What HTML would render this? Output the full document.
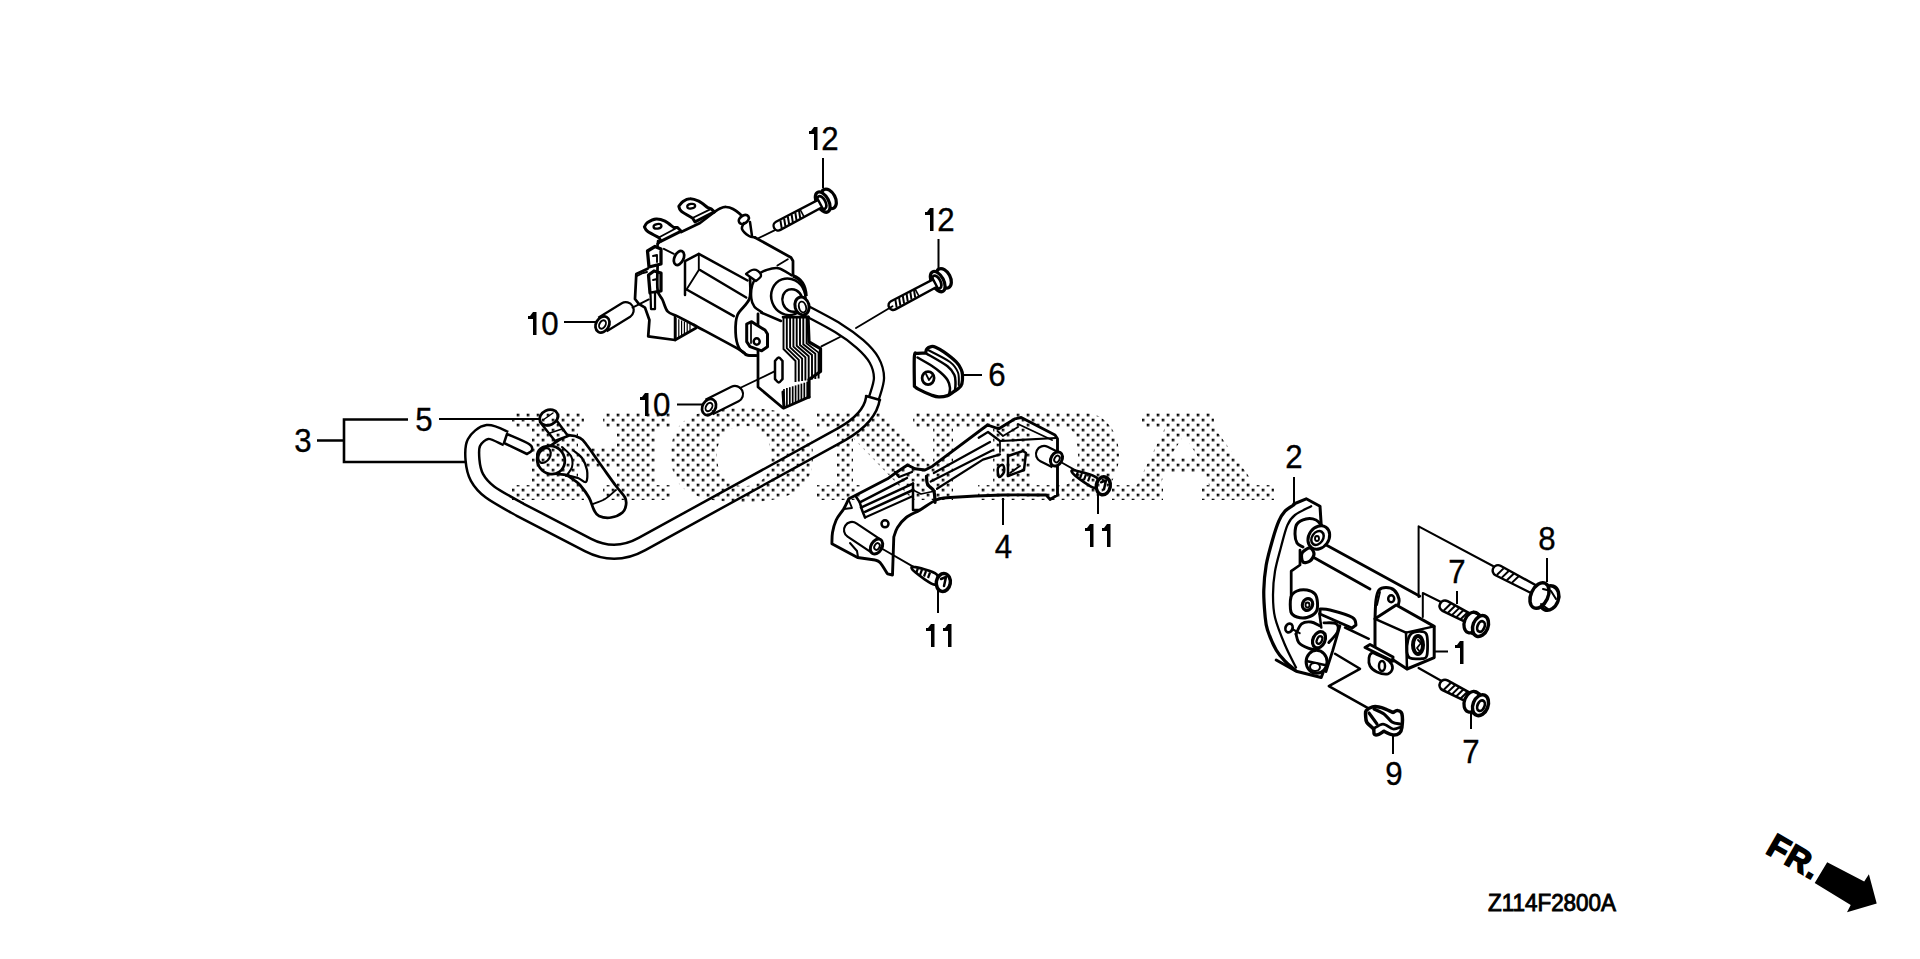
<!DOCTYPE html>
<html><head><meta charset="utf-8"><style>
html,body{margin:0;padding:0;background:#fff;width:1920px;height:959px;overflow:hidden}
svg{position:absolute;left:0;top:0}
text{font-family:"Liberation Sans",sans-serif}
</style></head><body>
<svg width="1920" height="959" viewBox="0 0 1920 959">
<defs>
<pattern id="dots" patternUnits="userSpaceOnUse" x="1.7" y="-1.3" width="10" height="10">
<rect x="0" y="0" width="2.6" height="2.6" fill="#000"/><rect x="5" y="5" width="2.6" height="2.6" fill="#000"/>
</pattern>
</defs>
<g id="parts">
<path d="M506,438.4C502.9,437.3 492.8,431.3 487.5,432C482.2,432.7 476.5,437.8 474,442.5C471.5,447.2 472,454.2 472.5,460C473,465.8 474.1,472.2 477,477.5C479.9,482.8 482.8,486.6 490,492C497.2,497.4 515,506.8 520,509.7L588,545Q615,559 642,544L842,434Q870,418 873,398" fill="none" stroke="#000" stroke-width="16.4" stroke-linecap="butt" stroke-linejoin="round"/>
<path d="M506,438.4C502.9,437.3 492.8,431.3 487.5,432C482.2,432.7 476.5,437.8 474,442.5C471.5,447.2 472,454.2 472.5,460C473,465.8 474.1,472.2 477,477.5C479.9,482.8 482.8,486.6 490,492C497.2,497.4 515,506.8 520,509.7L588,545Q615,559 642,544L842,434Q870,418 873,398" fill="none" stroke="#fff" stroke-width="11.4" stroke-linecap="butt" stroke-linejoin="round"/>
<path d="M874,398C874.8,394.7 879,384.3 879,378C879,371.7 877.2,365.7 874,360C870.8,354.3 866,349.3 860,344C854,338.7 847.8,334 838,328C828.2,322 807.2,311.3 801,308" fill="none" stroke="#000" stroke-width="12.4" stroke-linecap="butt" stroke-linejoin="round"/>
<path d="M874,398C874.8,394.7 879,384.3 879,378C879,371.7 877.2,365.7 874,360C870.8,354.3 866,349.3 860,344C854,338.7 847.8,334 838,328C828.2,322 807.2,311.3 801,308" fill="none" stroke="#fff" stroke-width="7.8" stroke-linecap="butt" stroke-linejoin="round"/>
<path d="M866,396 L880,400" fill="none" stroke="#000" stroke-width="2.50" stroke-linejoin="round" stroke-linecap="round"/>
<path d="M507,434C510.7,435.7 524.8,441.3 529,444C533.2,446.7 532.3,448.3 532,450C531.7,451.7 527.8,453.3 527,454L504,443L507,434Z" fill="#fff" stroke="#000" stroke-width="2.50" stroke-linejoin="round"/>
<path d="M567.5,435.6C571.2,435.1 576.7,436.3 580,438C583.3,439.7 584.2,441.7 587.5,446C590.8,450.3 595.2,457.1 600,463.8C604.8,470.4 611.8,480.4 616,486C620.2,491.6 623.3,494.3 625,497.5C626.7,500.7 626.4,502.5 626,505C625.6,507.5 625,510.4 622.5,512.5C620,514.6 614.9,516.9 611,517.5C607.1,518.1 601.8,517.2 599,516C596.2,514.8 595.7,513.1 594,510C592.3,506.9 591.3,501.7 589,497.5C586.7,493.3 582.5,487.9 580,485C577.5,482.1 576.3,481.7 574,480C571.7,478.3 568.8,476 566,475C563.2,474 560.3,474.7 557.5,474C554.7,473.3 551.9,472.5 549,470.6C546.1,468.7 541.9,465.3 540,462.5C538.1,459.7 537.1,456.2 537.5,453.8C537.9,451.2 540.4,448.8 542.5,447.5C544.6,446.2 547.5,447.1 550,446C552.5,444.9 554.6,442.7 557.5,441C560.4,439.3 563.8,436.1 567.5,435.6Z" fill="#fff" stroke="#000" stroke-width="2.75" stroke-linejoin="round"/>
<path d="M592.5,504C594.6,503.2 601.1,501.3 605,499C608.9,496.7 614.2,491.5 616,490" fill="none" stroke="#000" stroke-width="1.88" stroke-linejoin="round" stroke-linecap="round"/>
<path d="M566,475C568,475.5 574.7,476.8 578,478C581.3,479.2 584.5,483.3 586,482C587.5,480.7 587.7,474 587,470C586.3,466 584.2,461.2 582,458C579.8,454.8 575.3,452.2 574,451" fill="none" stroke="#000" stroke-width="2.25" stroke-linejoin="round" stroke-linecap="round"/>
<path d="M540,422L555,441L568,436L557,421L540,422Z" fill="#fff" stroke="#000" stroke-width="2.50" stroke-linejoin="round"/>
<path d="M550,433 L562,429" fill="none" stroke="#000" stroke-width="1.50" stroke-linejoin="round" stroke-linecap="round"/>
<ellipse cx="548.8" cy="417.5" rx="9.5" ry="7.5" transform="rotate(-25 548.8 417.5)" fill="#fff" stroke="#000" stroke-width="2.75"/>
<path d="M543,420 L553,413" fill="none" stroke="#000" stroke-width="1.50" stroke-linejoin="round" stroke-linecap="round"/>
<ellipse cx="551" cy="460" rx="13.5" ry="14.5" transform="rotate(-35 551 460)" fill="#fff" stroke="#000" stroke-width="2.75"/>
<ellipse cx="544.5" cy="455.5" rx="5.5" ry="8" transform="rotate(30 544.5 455.5)" fill="#fff" stroke="#000" stroke-width="2.25"/>
<path d="M562,447C563.5,448.5 569.3,452.7 571,456C572.7,459.3 572.8,463.7 572,467C571.2,470.3 567,474.5 566,476" fill="none" stroke="#000" stroke-width="2.00" stroke-linejoin="round" stroke-linecap="round"/>
<path d="M644.4,226.9C644.9,226.2 645.5,223.8 647.5,222.5C649.5,221.2 653.3,219.2 656.2,219C659.2,218.8 662.1,219.8 665,221.2C667.9,222.7 672.3,226.5 673.8,227.5L677.5,227.5L681.2,231.2L661.2,241.2L658.8,237.5C656.9,236.5 649.9,233 647.5,231.2C645.1,229.5 644.9,227.6 644.4,226.9Z" fill="#fff" stroke="#000" stroke-width="3.00" stroke-linejoin="round"/>
<path d="M658.8,237.5 L677.5,227.5" fill="none" stroke="#000" stroke-width="1.88" stroke-linejoin="round" stroke-linecap="round"/>
<ellipse cx="657.5" cy="226.3" rx="4" ry="2.3" transform="rotate(-10 657.5 226.3)" fill="#fff" stroke="#000" stroke-width="2.25"/>
<path d="M678.8,206.2C679.5,205.5 681.1,202.8 683,201.5C684.9,200.2 687.4,198.8 690,198.8C692.6,198.7 695.8,199.8 698.8,201.2C701.7,202.7 706,206.5 707.5,207.5L711.2,208.8L714.4,211.9L695,221.9L692.5,218C690.6,216.9 683.5,213.2 681.2,211.2C679,209.3 679.2,207.1 678.8,206.2Z" fill="#fff" stroke="#000" stroke-width="3.00" stroke-linejoin="round"/>
<path d="M692.5,218 L711.2,208.8" fill="none" stroke="#000" stroke-width="1.88" stroke-linejoin="round" stroke-linecap="round"/>
<ellipse cx="691.2" cy="206.2" rx="4" ry="2.3" transform="rotate(-10 691.2 206.2)" fill="#fff" stroke="#000" stroke-width="2.25"/>
<path d="M657.5,244 L661,241" fill="none" stroke="#000" stroke-width="2.50" stroke-linejoin="round" stroke-linecap="round"/>
<path d="M681.2,232 L700,223 L714.4,212" fill="none" stroke="#000" stroke-width="2.75" stroke-linejoin="round" stroke-linecap="round"/>
<path d="M714.4,211.9C715.3,211.3 718.1,209.3 720,208.5C721.9,207.7 723.8,206.9 726,207C728.2,207.1 730.7,207.8 733,209C735.3,210.2 738.2,212.3 740,214C741.8,215.7 743.3,218.2 744,219" fill="none" stroke="#000" stroke-width="2.75" stroke-linejoin="round" stroke-linecap="round"/>
<ellipse cx="743.8" cy="219.4" rx="5.5" ry="3.8" transform="rotate(-35 743.8 219.4)" fill="#fff" stroke="#000" stroke-width="2.75"/>
<path d="M744,223C743.7,224 741.2,226.8 742,229C742.8,231.2 746.8,234.6 749,236C751.2,237.4 754,237.2 755,237.5" fill="none" stroke="#000" stroke-width="2.50" stroke-linejoin="round" stroke-linecap="round"/>
<path d="M750,222 L752,236" fill="none" stroke="#000" stroke-width="2.50" stroke-linejoin="round" stroke-linecap="round"/>
<path d="M755,237.5 L791,257.5 L793,261 L793,275" fill="none" stroke="#000" stroke-width="2.75" stroke-linejoin="round" stroke-linecap="round"/>
<path d="M777.4,265.5 L787.8,259.3" fill="none" stroke="#000" stroke-width="1.88" stroke-linejoin="round" stroke-linecap="round"/>
<path d="M647.5,251L655,246.5L661,249L661,264L649,267L647.5,251Z" fill="#fff" stroke="#000" stroke-width="3.25" stroke-linejoin="round"/>
<path d="M648.5,275L654,271L661,273L661,291L650,293L648.5,275Z" fill="#fff" stroke="#000" stroke-width="3.25" stroke-linejoin="round"/>
<path d="M653,256 L657,255 L657,262" fill="none" stroke="#000" stroke-width="1.88" stroke-linejoin="round" stroke-linecap="round"/>
<path d="M653,280 L657,279 L657,287" fill="none" stroke="#000" stroke-width="1.88" stroke-linejoin="round" stroke-linecap="round"/>
<path d="M650.5,293L655,292L655,309L651,309L650.5,293Z" fill="#fff" stroke="#000" stroke-width="2.25" stroke-linejoin="round"/>
<path d="M658,241 L657.5,247" fill="none" stroke="#000" stroke-width="2.50" stroke-linejoin="round" stroke-linecap="round"/>
<path d="M657.6,265C657.6,269.2 656.8,284.2 657.6,290C658.4,295.8 660.9,296.4 662.6,300C664.3,303.6 665.1,308.7 667.6,311.4C670.1,314.1 673.2,314.1 677.6,316.4C682,318.7 691.3,323.6 694,325" fill="none" stroke="#000" stroke-width="2.75" stroke-linejoin="round" stroke-linecap="round"/>
<path d="M647.6,268.8 L636.3,274 L635,299 L638.8,303.8 L645,307.6 L649.4,320 L648.2,336.4 L675,340 L696,328" fill="none" stroke="#000" stroke-width="2.75" stroke-linejoin="round" stroke-linecap="round"/>
<path d="M637,276 L643,273 L647,272" fill="none" stroke="#000" stroke-width="1.88" stroke-linejoin="round" stroke-linecap="round"/>
<path d="M676.0,318.0V340.0" stroke="#000" stroke-width="1.2"/>
<path d="M678.8,319.2V338.0" stroke="#000" stroke-width="1.2"/>
<path d="M681.6,320.4V336.0" stroke="#000" stroke-width="1.2"/>
<path d="M684.4,321.6V334.0" stroke="#000" stroke-width="1.2"/>
<path d="M687.2,322.8V332.0" stroke="#000" stroke-width="1.2"/>
<path d="M690.0,324.0V330.0" stroke="#000" stroke-width="1.2"/>
<path d="M675,316 L675,340" fill="none" stroke="#000" stroke-width="2.50" stroke-linejoin="round" stroke-linecap="round"/>
<path d="M694,325C701.7,329.2 731.3,345 740,350C748.7,355 743.5,354.1 746.2,355C749,355.9 754.6,355.5 756.2,355.6" fill="none" stroke="#000" stroke-width="2.75" stroke-linejoin="round" stroke-linecap="round"/>
<ellipse cx="679" cy="258" rx="4.5" ry="7.5" transform="rotate(25 679 258)" fill="#fff" stroke="#000" stroke-width="2.75"/>
<path d="M663.8,248.8 L673.8,253.8" fill="none" stroke="#000" stroke-width="1.88" stroke-linejoin="round" stroke-linecap="round"/>
<path d="M685,295 L685,261.2 L698.8,253.8 L747.5,280.5" fill="none" stroke="#000" stroke-width="2.50" stroke-linejoin="round" stroke-linecap="round"/>
<path d="M698.8,253.8 L698.8,270 L686.2,290" fill="none" stroke="#000" stroke-width="1.88" stroke-linejoin="round" stroke-linecap="round"/>
<path d="M700,270 L746.2,297.5" fill="none" stroke="#000" stroke-width="2.50" stroke-linejoin="round" stroke-linecap="round"/>
<path d="M687.5,290 L733.8,316.2" fill="none" stroke="#000" stroke-width="2.50" stroke-linejoin="round" stroke-linecap="round"/>
<path d="M750,278C749.9,281.5 751.5,292.6 749.4,298.8C747.3,304.9 739.8,309.4 737.5,315C735.2,320.6 735.4,327.1 735.6,332.5C735.8,337.9 737,343.9 738.8,347.5C740.5,351.1 743.3,353 746.2,354.4C749.2,355.8 754.6,355.4 756.2,355.6" fill="none" stroke="#000" stroke-width="2.75" stroke-linejoin="round" stroke-linecap="round"/>
<path d="M761.7,312C760.5,311.1 756.1,309 754.4,306.7C752.7,304.4 751.6,302 751.3,298.4C750.9,294.8 751.2,288.7 752.3,284.8C753.4,280.9 755.7,277.4 758,275C760.3,272.6 762.5,271.3 765.9,270.2C769.3,269.1 774,267.3 778.4,268.2C782.8,269.1 789.7,274.3 792,275.5" fill="none" stroke="#000" stroke-width="2.50" stroke-linejoin="round" stroke-linecap="round"/>
<path d="M746,274C747,273.3 750,270.5 752,270C754,269.5 756.5,270 758,271C759.5,272 761.3,274.3 761,276C760.7,277.7 756.8,280.2 756,281L746,274Z" fill="#fff" stroke="#000" stroke-width="2.25" stroke-linejoin="round"/>
<ellipse cx="788.3" cy="296.8" rx="17" ry="18.5" transform="rotate(-20 788.3 296.8)" fill="#fff" stroke="#000" stroke-width="2.50"/>
<path d="M793,276Q805,280 806,296" fill="none" stroke="#000" stroke-width="3.5"/>
<ellipse cx="792.5" cy="300.5" rx="10" ry="11.5" transform="rotate(-20 792.5 300.5)" fill="#fff" stroke="#000" stroke-width="2.50"/>
<ellipse cx="802" cy="306" rx="7" ry="9" transform="rotate(-15 802 306)" fill="#fff" stroke="#000" stroke-width="3.00"/>
<ellipse cx="802.5" cy="307" rx="3.5" ry="5.5" transform="rotate(-15 802.5 307)" fill="#fff" stroke="#000" stroke-width="1.88"/>
<path d="M758,313.8 L758,387 L783,408" fill="none" stroke="#000" stroke-width="2.75" stroke-linejoin="round" stroke-linecap="round"/>
<path d="M761,312.5 L781,321" fill="none" stroke="#000" stroke-width="2.50" stroke-linejoin="round" stroke-linecap="round"/>
<path d="M746.7,324L751.7,321.7L756.7,325L765,330L767.5,334L767.5,346.7L761.7,350.8L750,346.7L746.7,341.7L746.7,324Z" fill="#fff" stroke="#000" stroke-width="3.00" stroke-linejoin="round"/>
<ellipse cx="756.7" cy="341.5" rx="3" ry="3.2" transform="rotate(0 756.7 341.5)" fill="#fff" stroke="#000" stroke-width="2.50"/>
<path d="M751,322.5 L751,343" fill="none" stroke="#000" stroke-width="1.75" stroke-linejoin="round" stroke-linecap="round"/>
<path d="M775,361C775.6,360.4 777.5,357.5 778.8,357.5C780,357.5 781.9,360.4 782.5,361L782.5,379C781.9,379.6 780,382.5 778.8,382.5C777.5,382.5 775.6,379.6 775,379L775,361Z" fill="#fff" stroke="#000" stroke-width="2.50" stroke-linejoin="round"/>
<path d="M783.5,317L783.5,349L795.5,361L795.5,382" fill="none" stroke="#000" stroke-width="1.9"/>
<path d="M786.8,317L786.8,348.2L798.8,359.8L798.8,381.5" fill="none" stroke="#000" stroke-width="1.9"/>
<path d="M790.1,317L790.1,347.4L802.1,358.6L802.1,381" fill="none" stroke="#000" stroke-width="1.9"/>
<path d="M793.4,317L793.4,346.6L805.4,357.4L805.4,380.5" fill="none" stroke="#000" stroke-width="1.9"/>
<path d="M796.7,317L796.7,345.8L808.7,356.2L808.7,380" fill="none" stroke="#000" stroke-width="1.9"/>
<path d="M800,317L800,345L812,355L812,379.5" fill="none" stroke="#000" stroke-width="1.9"/>
<path d="M803.3,317L803.3,344.2L815.3,353.8L815.3,379" fill="none" stroke="#000" stroke-width="1.9"/>
<path d="M806.6,317L806.6,343.4L818.6,352.6L818.6,378.5" fill="none" stroke="#000" stroke-width="1.9"/>
<path d="M783,317 L808.5,317" fill="none" stroke="#000" stroke-width="2.75" stroke-linejoin="round" stroke-linecap="round"/>
<path d="M808,317 L809,342 L820.5,348.6 L820.5,371.5 L809,379.5 L809,397" fill="none" stroke="#000" stroke-width="3.25" stroke-linejoin="round" stroke-linecap="round"/>
<path d="M784.0,389.0V407.0" stroke="#000" stroke-width="1.7"/>
<path d="M786.9,388.1V405.9" stroke="#000" stroke-width="1.7"/>
<path d="M789.8,387.2V404.8" stroke="#000" stroke-width="1.7"/>
<path d="M792.7,386.3V403.7" stroke="#000" stroke-width="1.7"/>
<path d="M795.6,385.4V402.6" stroke="#000" stroke-width="1.7"/>
<path d="M798.5,384.5V401.5" stroke="#000" stroke-width="1.7"/>
<path d="M801.4,383.6V400.4" stroke="#000" stroke-width="1.7"/>
<path d="M804.3,382.7V399.3" stroke="#000" stroke-width="1.7"/>
<path d="M807.2,381.8V398.2" stroke="#000" stroke-width="1.7"/>
<path d="M783,392 L784,408 L809,397" fill="none" stroke="#000" stroke-width="3.00" stroke-linejoin="round" stroke-linecap="round"/>
<path d="M606.7,331.3L630.2,316.8A8,8 0 0 0 621.8,303.2L598.3,317.7" fill="#fff" stroke="#000" stroke-width="2.2"/>
<ellipse cx="602.5" cy="324.5" rx="6.5" ry="8.5" transform="rotate(30 602.5 324.5)" fill="#fff" stroke="#000" stroke-width="2.75"/>
<ellipse cx="602.5" cy="324.5" rx="3" ry="4.5" transform="rotate(30 602.5 324.5)" fill="#fff" stroke="#000" stroke-width="1.88"/>
<path d="M632.5,307.6 L648.8,299.4" fill="none" stroke="#000" stroke-width="1.88" stroke-linejoin="round" stroke-linecap="round"/>
<path d="M712.6,414.2L738.6,401.2A8,8 0 0 0 731.4,386.8L705.4,399.8" fill="#fff" stroke="#000" stroke-width="2.2"/>
<ellipse cx="709" cy="407" rx="6.5" ry="8.5" transform="rotate(30 709 407)" fill="#fff" stroke="#000" stroke-width="2.75"/>
<ellipse cx="709" cy="407" rx="3" ry="4.5" transform="rotate(30 709 407)" fill="#fff" stroke="#000" stroke-width="1.88"/>
<path d="M740,388 L775,371.2" fill="none" stroke="#000" stroke-width="1.88" stroke-linejoin="round" stroke-linecap="round"/>
<path d="M758.8,238 L777.5,228.8" fill="none" stroke="#000" stroke-width="1.88" stroke-linejoin="round" stroke-linecap="round"/>
<ellipse cx="828.8" cy="198.8" rx="6.5" ry="10.5" transform="rotate(-28 828.8 198.8)" fill="#fff" stroke="#000" stroke-width="3.25"/>
<ellipse cx="822.7" cy="202.1" rx="6" ry="11" transform="rotate(-28 822.7 202.1)" fill="#fff" stroke="#000" stroke-width="3.25"/>
<ellipse cx="821.7" cy="202.6" rx="3.8" ry="7" transform="rotate(-28 821.7 202.6)" fill="#fff" stroke="#000" stroke-width="2.75"/>
<path d="M776.0,221.7L818.1,199.9L822.0,207.2L780.4,229.9A4.6,4.6 0 0 1 776.0,221.7Z" fill="#fff" stroke="#000" stroke-width="2.4"/>
<path d="M799.9,209.1L804.2,217.2" stroke="#000" stroke-width="1.6"/>
<path d="M780.4,220.4L781.7,228.1" stroke="#000" stroke-width="2"/>
<path d="M784.1,218.5L785.4,226.1" stroke="#000" stroke-width="2"/>
<path d="M787.8,216.5L789.1,224.2" stroke="#000" stroke-width="2"/>
<path d="M791.6,214.5L792.8,222.2" stroke="#000" stroke-width="2"/>
<path d="M795.3,212.5L796.5,220.2" stroke="#000" stroke-width="2"/>
<path d="M799.0,210.6L800.2,218.2" stroke="#000" stroke-width="2"/>
<ellipse cx="943.8" cy="278.3" rx="6.5" ry="10.5" transform="rotate(-28 943.8 278.3)" fill="#fff" stroke="#000" stroke-width="3.25"/>
<ellipse cx="937.7" cy="281.6" rx="6" ry="11" transform="rotate(-28 937.7 281.6)" fill="#fff" stroke="#000" stroke-width="3.25"/>
<ellipse cx="936.7" cy="282.1" rx="3.8" ry="7" transform="rotate(-28 936.7 282.1)" fill="#fff" stroke="#000" stroke-width="2.75"/>
<path d="M891.0,301.2L933.1,279.4L937.0,286.7L895.4,309.4A4.6,4.6 0 0 1 891.0,301.2Z" fill="#fff" stroke="#000" stroke-width="2.4"/>
<path d="M914.9,288.6L919.2,296.7" stroke="#000" stroke-width="1.6"/>
<path d="M895.4,299.9L896.7,307.6" stroke="#000" stroke-width="2"/>
<path d="M899.1,298.0L900.4,305.6" stroke="#000" stroke-width="2"/>
<path d="M902.8,296.0L904.1,303.7" stroke="#000" stroke-width="2"/>
<path d="M906.6,294.0L907.8,301.7" stroke="#000" stroke-width="2"/>
<path d="M910.3,292.0L911.5,299.7" stroke="#000" stroke-width="2"/>
<path d="M914.0,290.1L915.2,297.7" stroke="#000" stroke-width="2"/>
<path d="M892.5,306.2 L856,328" fill="none" stroke="#000" stroke-width="1.88" stroke-linejoin="round" stroke-linecap="round"/>
<path d="M840,337 L821.4,346.4" fill="none" stroke="#000" stroke-width="1.88" stroke-linejoin="round" stroke-linecap="round"/>
<path d="M925.6,353.1C925.8,352.4 926,349.8 926.9,348.8C927.8,347.7 929.8,346.9 931.2,346.6C932.7,346.3 933.5,346.3 935.6,347.2C937.7,348.1 940.3,349.4 943.8,351.9C947.2,354.3 953.3,359 956.2,361.9C959.2,364.8 960.2,367.2 961.2,369.4C962.3,371.6 962.4,372.6 962.5,375C962.6,377.4 962.5,381.6 961.9,383.8C961.3,385.9 960,386.9 958.8,388.1C957.5,389.4 956.3,390 954.4,391.2C952.5,392.5 950.1,394.7 947.5,395.6C944.9,396.5 941.5,397 938.8,396.9C936,396.8 934.6,396.2 931.2,395C927.9,393.8 921.6,390.9 918.8,389.4C915.9,387.9 915.1,386.8 914.4,386.2C914.4,381.2 913.9,361.7 914.4,356.2C914.9,350.8 915.6,353.9 917.5,353.4C919.4,352.9 924.2,353.2 925.6,353.1Z" fill="#fff" stroke="#000" stroke-width="3.25" stroke-linejoin="round"/>
<path d="M917.5,357.5C919.9,358.9 928.1,363.5 932,366C935.9,368.5 938,370.2 940.6,372.5C943.2,374.8 945.9,377.4 947.5,380C949.1,382.6 949.8,385.5 950,388C950.2,390.5 949.2,393.8 949,395" fill="none" stroke="#000" stroke-width="2.50" stroke-linejoin="round" stroke-linecap="round"/>
<path d="M926.9,353.8C930.3,355.8 942.9,362.7 947.5,366.2C952.1,369.8 953.1,372.2 954.4,375C955.7,377.8 955.4,380.3 955.5,383C955.6,385.7 955.1,389.7 955,391" fill="none" stroke="#000" stroke-width="2.50" stroke-linejoin="round" stroke-linecap="round"/>
<path d="M928,350C931.7,352 945,358.2 950,362C955,365.8 956.5,368.7 958,372.5C959.5,376.3 958.6,382.9 958.8,385" fill="none" stroke="#000" stroke-width="2.00" stroke-linejoin="round" stroke-linecap="round"/>
<ellipse cx="928.1" cy="378.1" rx="6" ry="6.5" transform="rotate(0 928.1 378.1)" fill="#fff" stroke="#000" stroke-width="2.75"/>
<path d="M926,374 L929,380 L932,376" fill="none" stroke="#000" stroke-width="1.75" stroke-linejoin="round" stroke-linecap="round"/>
<path d="M831.9,543.8C832,541.9 831.8,536.5 832.5,532.5C833.2,528.5 834.4,524 836.2,520C838.1,516 841.7,512.3 843.8,508.8C845.8,505.2 847.9,500.4 848.8,498.8L856.2,495L887.5,478.8L896.2,472.5L907.5,465L915,468.8L925,470L932.5,466.2L987.5,425L998.8,428.8L1015,418.8L1021.2,417.5L1055,435L1057.5,438.8L1057.5,495L1050,499.4L1046.2,495C1039,495 1018.5,494.6 1002.5,495C986.5,495.4 961,496.7 950,497.5C939,498.3 941.2,497.9 936.2,500C931.2,502.1 925,507.1 920,510C915,512.9 910,514.6 906.2,517.5C902.5,520.4 899.6,524.2 897.5,527.5C895.4,530.8 894.4,535.4 893.8,537L892.5,575L887.5,573.8C886.2,571.9 882.1,564.8 880,562.5C877.9,560.2 875.8,560.4 875,560L857.5,557.5L831.9,543.8Z" fill="none" stroke="#000" stroke-width="2.88" stroke-linejoin="round"/>
<path d="M859.8,502.4 L894.2,484.6 L907,478" fill="none" stroke="#000" stroke-width="2.50" stroke-linejoin="round" stroke-linecap="round"/>
<path d="M860.9,507.6 L913,483.6" fill="none" stroke="#000" stroke-width="2.50" stroke-linejoin="round" stroke-linecap="round"/>
<path d="M865,511.8 L913,490" fill="none" stroke="#000" stroke-width="2.50" stroke-linejoin="round" stroke-linecap="round"/>
<path d="M855.6,496 L859.8,502.4 L862,510 L865,517.5" fill="none" stroke="#000" stroke-width="2.50" stroke-linejoin="round" stroke-linecap="round"/>
<path d="M865,517.5 L913,496" fill="none" stroke="#000" stroke-width="2.00" stroke-linejoin="round" stroke-linecap="round"/>
<path d="M913,483.6 L913,510 L920,510" fill="none" stroke="#000" stroke-width="2.50" stroke-linejoin="round" stroke-linecap="round"/>
<path d="M926.5,476.3C926.7,477.7 926.4,482.2 927.6,484.6C928.8,487.1 932.6,488 933.8,491C935,494 934.8,500.5 935,502.4" fill="none" stroke="#000" stroke-width="3.25" stroke-linejoin="round" stroke-linecap="round"/>
<path d="M913,490 L921,494 L935,491" fill="none" stroke="#000" stroke-width="1.75" stroke-linejoin="round" stroke-linecap="round"/>
<path d="M933.8,473 L990,442" fill="none" stroke="#000" stroke-width="2.25" stroke-linejoin="round" stroke-linecap="round"/>
<path d="M930.7,481.5 L993,450" fill="none" stroke="#000" stroke-width="2.25" stroke-linejoin="round" stroke-linecap="round"/>
<path d="M937,488.8 L982.9,459.6 L1000,454.4" fill="none" stroke="#000" stroke-width="2.25" stroke-linejoin="round" stroke-linecap="round"/>
<path d="M978.7,437.7 L988,432 L1000,441 L1056,438" fill="none" stroke="#000" stroke-width="2.25" stroke-linejoin="round" stroke-linecap="round"/>
<path d="M1000,441 L1000,452" fill="none" stroke="#000" stroke-width="1.75" stroke-linejoin="round" stroke-linecap="round"/>
<path d="M1018,424 L1052,440" fill="none" stroke="#000" stroke-width="1.88" stroke-linejoin="round" stroke-linecap="round"/>
<path d="M997.5,431 L1003,436 L1018,427" fill="none" stroke="#000" stroke-width="1.88" stroke-linejoin="round" stroke-linecap="round"/>
<path d="M895,472 L899,477 L912,472" fill="none" stroke="#000" stroke-width="2.25" stroke-linejoin="round" stroke-linecap="round"/>
<path d="M871.6,552.7L847.6,536.7A8,8 0 0 1 856.4,523.3L880.4,539.3" fill="none" stroke="#000" stroke-width="2.2"/>
<ellipse cx="876.5" cy="546.5" rx="5.5" ry="8" transform="rotate(30 876.5 546.5)" fill="#fff" stroke="#000" stroke-width="3.00"/>
<ellipse cx="877" cy="546.5" rx="2.5" ry="3.5" transform="rotate(30 877 546.5)" fill="#fff" stroke="#000" stroke-width="1.88"/>
<ellipse cx="885" cy="523.8" rx="3.5" ry="3.5" transform="rotate(0 885 523.8)" fill="#fff" stroke="#000" stroke-width="2.50"/>
<path d="M850,543 L857,551 L858,557" fill="none" stroke="#000" stroke-width="2.00" stroke-linejoin="round" stroke-linecap="round"/>
<path d="M848.8,500 L852,508 L844,509" fill="none" stroke="#000" stroke-width="1.88" stroke-linejoin="round" stroke-linecap="round"/>
<path d="M1052.4,467.2L1040.4,461.2A8,8 0 0 1 1047.6,446.8L1059.6,452.8" fill="none" stroke="#000" stroke-width="2.2"/>
<ellipse cx="1056.5" cy="459" rx="5.5" ry="7.5" transform="rotate(30 1056.5 459)" fill="#fff" stroke="#000" stroke-width="3.00"/>
<ellipse cx="1057" cy="459" rx="2.5" ry="3.5" transform="rotate(30 1057 459)" fill="#fff" stroke="#000" stroke-width="1.88"/>
<path d="M998,468C998.7,466 1002,464.3 1003,465C1004,465.7 1004.7,470 1004,472C1003.3,474 1000,477.7 999,477C998,476.3 997.3,470 998,468Z" fill="none" stroke="#000" stroke-width="2.50" stroke-linejoin="round"/>
<path d="M1008,456L1023,451L1026,453L1024,470L1008,476L1008,456Z" fill="none" stroke="#000" stroke-width="2.50" stroke-linejoin="round"/>
<path d="M1010,473 L1020,466" fill="none" stroke="#000" stroke-width="1.75" stroke-linejoin="round" stroke-linecap="round"/>
<path d="M880,547.5 L913.5,566.9" fill="none" stroke="#000" stroke-width="1.88" stroke-linejoin="round" stroke-linecap="round"/>
<path d="M1062.5,463 L1075.1,470.1" fill="none" stroke="#000" stroke-width="1.88" stroke-linejoin="round" stroke-linecap="round"/>
<path d="M913.5,566.9C917.1,567.2 933,571.2 936.5,574.2C940,577.2 938,585 934.4,584.6C930.8,584.2 918.5,575.1 915,572.1C911.5,569.1 909.9,566.5 913.5,566.9Z" fill="none" stroke="#000" stroke-width="2.6"/>
<path d="M918.0,568.0L916.0,573.5" stroke="#000" stroke-width="2.2"/>
<path d="M922.0,569.5L920.0,575.0" stroke="#000" stroke-width="2.2"/>
<path d="M926.0,571.0L924.0,576.5" stroke="#000" stroke-width="2.2"/>
<path d="M930.0,572.5L928.0,578.0" stroke="#000" stroke-width="2.2"/>
<ellipse cx="943.3" cy="582.5" rx="7" ry="9" transform="rotate(10 943.3 582.5)" fill="#fff" stroke="#000" stroke-width="3.50"/>
<path d="M941,579 L946,577 L944,586" fill="none" stroke="#000" stroke-width="2.50" stroke-linejoin="round" stroke-linecap="round"/>
<path d="M1073.5,470.2C1077.1,470.6 1093,474.6 1096.5,477.5C1100,480.5 1098,488.3 1094.4,487.9C1090.8,487.6 1078.5,478.4 1075,475.4C1071.5,472.5 1069.9,469.8 1073.5,470.2Z" fill="none" stroke="#000" stroke-width="2.6"/>
<path d="M1078.0,471.3L1076.0,476.8" stroke="#000" stroke-width="2.2"/>
<path d="M1082.0,472.8L1080.0,478.3" stroke="#000" stroke-width="2.2"/>
<path d="M1086.0,474.3L1084.0,479.8" stroke="#000" stroke-width="2.2"/>
<path d="M1090.0,475.8L1088.0,481.3" stroke="#000" stroke-width="2.2"/>
<ellipse cx="1103.3" cy="485.8" rx="7" ry="9" transform="rotate(10 1103.3 485.8)" fill="#fff" stroke="#000" stroke-width="3.50"/>
<path d="M1101,482.3 L1106,480.3 L1104,489.3" fill="none" stroke="#000" stroke-width="2.50" stroke-linejoin="round" stroke-linecap="round"/>
<path d="M1293.8,505C1292.3,506 1287.5,508.5 1285,511.2C1282.5,514 1280.8,516.5 1278.8,521.2C1276.7,526 1274.6,532.7 1272.5,540C1270.4,547.3 1267.7,556.7 1266.2,565C1264.8,573.3 1264,581.7 1263.8,590C1263.5,598.3 1264.4,608.3 1265,615C1265.6,621.7 1265.6,624.2 1267.5,630C1269.4,635.8 1273.3,644.8 1276.2,650C1279.2,655.2 1281.9,657.9 1285,661.2C1288.1,664.6 1293.3,668.5 1295,670" fill="none" stroke="#000" stroke-width="3.25" stroke-linejoin="round" stroke-linecap="round"/>
<path d="M1293.8,504 L1306.2,498.8 L1320,506.2 L1321.2,525" fill="none" stroke="#000" stroke-width="3.00" stroke-linejoin="round" stroke-linecap="round"/>
<path d="M1311.2,506.2C1308.5,507.7 1299,511.9 1295,515C1291,518.1 1289.8,519.8 1287.5,525C1285.2,530.2 1283.3,538.5 1281.2,546.2C1279.2,554 1276.4,563.1 1275,571.2C1273.6,579.4 1273,587.3 1273,595C1273,602.7 1273,609.2 1275,617.5C1277,625.8 1281.5,636.7 1285,645C1288.5,653.3 1294.2,663.8 1296,667.5" fill="none" stroke="#000" stroke-width="2.25" stroke-linejoin="round" stroke-linecap="round"/>
<path d="M1276.2,660 L1296.2,671.2 L1321.2,677.5 L1325,667.5" fill="none" stroke="#000" stroke-width="3.00" stroke-linejoin="round" stroke-linecap="round"/>
<path d="M1300,550 L1300,565 L1291.2,571.2 L1291.2,612.5" fill="none" stroke="#000" stroke-width="2.75" stroke-linejoin="round" stroke-linecap="round"/>
<path d="M1322,526C1321,525 1318.7,521.2 1316,520C1313.3,518.8 1309.2,518.3 1306,519C1302.8,519.7 1298.8,521.5 1297,524C1295.2,526.5 1295,530.8 1295,534C1295,537.2 1295.7,540.8 1297,543C1298.3,545.2 1302,546.3 1303,547" fill="none" stroke="#000" stroke-width="3.00" stroke-linejoin="round" stroke-linecap="round"/>
<ellipse cx="1318.8" cy="537.5" rx="10" ry="12.5" transform="rotate(35 1318.8 537.5)" fill="#fff" stroke="#000" stroke-width="3.00"/>
<ellipse cx="1317.5" cy="538" rx="5.5" ry="7.5" transform="rotate(35 1317.5 538)" fill="#fff" stroke="#000" stroke-width="2.50"/>
<ellipse cx="1317" cy="538.5" rx="2" ry="2.5" transform="rotate(0 1317 538.5)" fill="#fff" stroke="#000" stroke-width="1.88"/>
<path d="M1302,553C1303.2,550.7 1308,547.8 1310,548C1312,548.2 1314,551.8 1314,554C1314,556.2 1311.8,559.7 1310,561C1308.2,562.3 1304.3,563.3 1303,562C1301.7,560.7 1300.8,555.3 1302,553Z" fill="#fff" stroke="#000" stroke-width="3.25" stroke-linejoin="round"/>
<path d="M1326.2,545 L1419.9,596.2" fill="none" stroke="#000" stroke-width="2.75" stroke-linejoin="round" stroke-linecap="round"/>
<path d="M1313.8,557.5 L1370,589" fill="none" stroke="#000" stroke-width="2.75" stroke-linejoin="round" stroke-linecap="round"/>
<path d="M1291,597C1292,593.5 1294.3,592.2 1297,591C1299.7,589.8 1304,589.5 1307,590C1310,590.5 1313.2,591.8 1315,594C1316.8,596.2 1317.3,600 1317.5,603C1317.7,606 1317.8,609.6 1316,612C1314.2,614.4 1310.2,616.7 1307,617.5C1303.8,618.3 1299.7,617.9 1297,617C1294.3,616.1 1292,615.3 1291,612C1290,608.7 1290,600.5 1291,597Z" fill="#fff" stroke="#000" stroke-width="3.00" stroke-linejoin="round"/>
<ellipse cx="1307.5" cy="604.5" rx="5" ry="6" transform="rotate(20 1307.5 604.5)" fill="#fff" stroke="#000" stroke-width="3.25"/>
<ellipse cx="1307.5" cy="605" rx="2" ry="2.5" transform="rotate(0 1307.5 605)" fill="#fff" stroke="#000" stroke-width="1.88"/>
<path d="M1320,609C1321.7,609.2 1324.6,608.6 1330,610C1335.4,611.4 1348.2,615 1352.5,617.5C1356.8,620 1355.4,623.8 1356,625L1352,628L1320,614L1320,609Z" fill="#fff" stroke="#000" stroke-width="3.00" stroke-linejoin="round"/>
<path d="M1296,634C1296.9,632.3 1299.1,625.8 1301.6,623.8C1304.1,621.8 1308,621.7 1311,622C1314,622.3 1318,625.1 1319.4,625.7" fill="none" stroke="#000" stroke-width="2.88" stroke-linejoin="round" stroke-linecap="round"/>
<path d="M1296,634C1296.5,635.4 1296.8,640.2 1298.8,642.6C1300.8,645 1305.3,647 1308.2,648.2C1311.1,649.4 1314.7,649.7 1316,650" fill="none" stroke="#000" stroke-width="2.88" stroke-linejoin="round" stroke-linecap="round"/>
<path d="M1324,622.9C1326,623 1334.1,622.2 1336.3,623.8C1338.5,625.4 1338.5,629.2 1337.3,632.3C1336,635.4 1330.2,640.9 1328.8,642.6" fill="none" stroke="#000" stroke-width="2.88" stroke-linejoin="round" stroke-linecap="round"/>
<ellipse cx="1319" cy="639.8" rx="6" ry="8.5" transform="rotate(25 1319 639.8)" fill="#fff" stroke="#000" stroke-width="3.25"/>
<ellipse cx="1319.5" cy="640" rx="2.5" ry="4" transform="rotate(25 1319.5 640)" fill="#fff" stroke="#000" stroke-width="2.25"/>
<ellipse cx="1316.6" cy="661.8" rx="10.5" ry="11.5" transform="rotate(0 1316.6 661.8)" fill="#fff" stroke="#000" stroke-width="3.00"/>
<path d="M1306.3,661 L1327,665.5" fill="none" stroke="#000" stroke-width="2.50" stroke-linejoin="round" stroke-linecap="round"/>
<ellipse cx="1315" cy="667" rx="5" ry="4" transform="rotate(10 1315 667)" fill="#fff" stroke="#000" stroke-width="2.00"/>
<path d="M1340,625.7 L1332.6,651 L1326,671.7" fill="none" stroke="#000" stroke-width="2.75" stroke-linejoin="round" stroke-linecap="round"/>
<path d="M1319.4,613.5 L1321.3,627.6" fill="none" stroke="#000" stroke-width="2.50" stroke-linejoin="round" stroke-linecap="round"/>
<ellipse cx="1289" cy="628" rx="3.5" ry="4.5" transform="rotate(20 1289 628)" fill="#fff" stroke="#000" stroke-width="2.75"/>
<path d="M1293,629.5 L1299.7,633.2" fill="none" stroke="#000" stroke-width="2.00" stroke-linejoin="round" stroke-linecap="round"/>
<path d="M1335,653.8 L1360,668.8 L1328.8,686.2 L1369.4,708.8" fill="none" stroke="#000" stroke-width="2.50" stroke-linejoin="round" stroke-linecap="round"/>
<path d="M1345,627.5 L1368.8,638.8" fill="none" stroke="#000" stroke-width="2.50" stroke-linejoin="round" stroke-linecap="round"/>
<path d="M1418.6,597 L1418.6,526.3 L1493,566" fill="none" stroke="#000" stroke-width="2.00" stroke-linejoin="round" stroke-linecap="round"/>
<path d="M1422.8,617 L1422.8,593 L1442,602.5" fill="none" stroke="#000" stroke-width="2.00" stroke-linejoin="round" stroke-linecap="round"/>
<path d="M1418.6,668 L1444.7,682.7" fill="none" stroke="#000" stroke-width="2.25" stroke-linejoin="round" stroke-linecap="round"/>
<path d="M1396.2,612.5L1375,618.8C1375.2,615.6 1375.3,604.8 1376,600C1376.7,595.2 1377.3,592.1 1379,590C1380.7,587.9 1383.5,587.5 1386,587.5C1388.5,587.5 1391.8,588.1 1394,590C1396.2,591.9 1398.3,596.3 1399,599C1399.7,601.7 1398.5,603.8 1398,606C1397.5,608.2 1396.5,611.4 1396.2,612.5Z" fill="#fff" stroke="#000" stroke-width="3.00" stroke-linejoin="round"/>
<ellipse cx="1391.2" cy="598.8" rx="3" ry="3.5" transform="rotate(0 1391.2 598.8)" fill="#fff" stroke="#000" stroke-width="2.50"/>
<path d="M1380,592 L1377,605" fill="none" stroke="#000" stroke-width="1.88" stroke-linejoin="round" stroke-linecap="round"/>
<path d="M1375,618.8L1396.2,605L1434.2,626.4L1434.2,657.6L1407,669L1375,648L1375,618.8Z" fill="#fff" stroke="#000" stroke-width="3.00" stroke-linejoin="round"/>
<path d="M1375,618.8 L1406,632.6 L1434.2,626.4" fill="none" stroke="#000" stroke-width="2.50" stroke-linejoin="round" stroke-linecap="round"/>
<path d="M1406,632.6 L1407,669" fill="none" stroke="#000" stroke-width="2.50" stroke-linejoin="round" stroke-linecap="round"/>
<path d="M1408,640C1408.8,636.8 1409.7,634.4 1412,633C1414.3,631.6 1419.5,631.1 1422,631.6C1424.5,632.1 1426.2,632.1 1427,636C1427.8,639.9 1427.8,651.2 1427,655C1426.2,658.8 1424.8,658.2 1422,658.7C1419.2,659.2 1412.5,659.1 1410,658C1407.5,656.9 1407.3,655 1407,652C1406.7,649 1407.2,643.2 1408,640Z" fill="none" stroke="#000" stroke-width="2.75" stroke-linejoin="round"/>
<ellipse cx="1418" cy="645" rx="5" ry="9" transform="rotate(0 1418 645)" fill="#fff" stroke="#000" stroke-width="4.00"/>
<path d="M1418,640 L1421,643 L1417,648 L1420,652" fill="none" stroke="#000" stroke-width="1.88" stroke-linejoin="round" stroke-linecap="round"/>
<path d="M1365,647.5L1370,644.5L1393,657L1392.5,661.2L1365,647.5Z" fill="#fff" stroke="#000" stroke-width="3.00" stroke-linejoin="round"/>
<path d="M1369,658C1369.3,655.8 1370.5,653.5 1372,653C1373.5,652.5 1375.2,653.7 1378,655C1380.8,656.3 1386.6,658.8 1389,661C1391.4,663.2 1392.7,665.9 1392.5,668C1392.3,670.1 1390.6,673.1 1388,673.8C1385.4,674.4 1380,673.3 1377,672C1374,670.7 1371.3,668.3 1370,666C1368.7,663.7 1368.7,660.2 1369,658Z" fill="none" stroke="#000" stroke-width="2.75" stroke-linejoin="round"/>
<ellipse cx="1382" cy="666" rx="3" ry="5" transform="rotate(0 1382 666)" fill="#fff" stroke="#000" stroke-width="2.50"/>
<path d="M1500.5,565.8L1538.1,586.5L1533.9,594.5L1495.5,575.2A5.3,5.3 0 0 1 1500.5,565.8Z" fill="#fff" stroke="#000" stroke-width="2.4"/>
<path d="M1503.6,568.4L1496.8,575.0" stroke="#000" stroke-width="2"/>
<path d="M1508.7,571.0L1501.8,577.6" stroke="#000" stroke-width="2"/>
<path d="M1513.7,573.7L1506.8,580.2" stroke="#000" stroke-width="2"/>
<path d="M1518.7,576.3L1511.8,582.9" stroke="#000" stroke-width="2"/>
<ellipse cx="1549" cy="598" rx="9.5" ry="12.5" transform="rotate(20 1549 598)" fill="#fff" stroke="#000" stroke-width="3.50"/>
<ellipse cx="1539.5" cy="595.5" rx="8.5" ry="13.5" transform="rotate(25 1539.5 595.5)" fill="#fff" stroke="#000" stroke-width="3.50"/>
<path d="M1543,589 L1551,591 L1556,599" fill="none" stroke="#000" stroke-width="2.00" stroke-linejoin="round" stroke-linecap="round"/>
<path d="M1541,604 L1548,609" fill="none" stroke="#000" stroke-width="2.00" stroke-linejoin="round" stroke-linecap="round"/>
<path d="M1447.5,601.2L1473.1,615.4L1468.9,623.6L1442.5,610.8A5.4,5.4 0 0 1 1447.5,601.2Z" fill="#fff" stroke="#000" stroke-width="2.6"/>
<path d="M1450.7,603.8L1443.8,610.5" stroke="#000" stroke-width="2"/>
<path d="M1454.9,606.0L1448.0,612.7" stroke="#000" stroke-width="2"/>
<path d="M1459.1,608.1L1452.2,614.9" stroke="#000" stroke-width="2"/>
<path d="M1463.3,610.3L1456.4,617.1" stroke="#000" stroke-width="2"/>
<path d="M1467.5,612.5L1460.6,619.3" stroke="#000" stroke-width="2"/>
<path d="M1469,612.5L1477,615.5L1484,636.5L1474,633Z" transform="translate(0,0)" fill="#fff" stroke="none"/>
<ellipse cx="1472" cy="622.5" rx="7.5" ry="10.8" transform="rotate(22 1472 622.5)" fill="#fff" stroke="#000" stroke-width="3.25"/>
<path d="M1472.5,611.8L1480.5,615.2M1471.5,633.2L1479.5,636.6" transform="translate(0,0)" stroke="#000" stroke-width="2.8"/>
<ellipse cx="1480.5" cy="626" rx="7.5" ry="10.8" transform="rotate(22 1480.5 626)" fill="#fff" stroke="#000" stroke-width="3.50"/>
<ellipse cx="1481" cy="626.5" rx="3.5" ry="5.5" transform="rotate(22 1481 626.5)" fill="#fff" stroke="#000" stroke-width="2.75"/>
<path d="M1447.5,680.4L1473.1,694.6L1468.9,702.8L1442.5,690.0A5.4,5.4 0 0 1 1447.5,680.4Z" fill="#fff" stroke="#000" stroke-width="2.6"/>
<path d="M1450.7,683.0L1443.8,689.7" stroke="#000" stroke-width="2"/>
<path d="M1454.9,685.2L1448.0,691.9" stroke="#000" stroke-width="2"/>
<path d="M1459.1,687.3L1452.2,694.1" stroke="#000" stroke-width="2"/>
<path d="M1463.3,689.5L1456.4,696.3" stroke="#000" stroke-width="2"/>
<path d="M1467.5,691.7L1460.6,698.5" stroke="#000" stroke-width="2"/>
<path d="M1469,612.5L1477,615.5L1484,636.5L1474,633Z" transform="translate(0,79.2)" fill="#fff" stroke="none"/>
<ellipse cx="1472" cy="701.7" rx="7.5" ry="10.8" transform="rotate(22 1472 701.7)" fill="#fff" stroke="#000" stroke-width="3.25"/>
<path d="M1472.5,611.8L1480.5,615.2M1471.5,633.2L1479.5,636.6" transform="translate(0,79.2)" stroke="#000" stroke-width="2.8"/>
<ellipse cx="1480.5" cy="705.2" rx="7.5" ry="10.8" transform="rotate(22 1480.5 705.2)" fill="#fff" stroke="#000" stroke-width="3.50"/>
<ellipse cx="1481" cy="705.7" rx="3.5" ry="5.5" transform="rotate(22 1481 705.7)" fill="#fff" stroke="#000" stroke-width="2.75"/>
<path d="M1393.1,712.5C1393.8,712.2 1396,710.4 1397.5,710.6C1399,710.8 1401.2,710.9 1401.9,713.8C1402.6,716.6 1402.3,724.3 1401.9,727.5C1401.5,730.7 1400.9,731.9 1399.4,733.1C1397.9,734.4 1395.7,735.3 1393.1,735C1390.5,734.7 1385.3,731.9 1383.8,731.2C1382.9,731.8 1380.3,733.9 1378.8,734.4C1377.2,734.9 1375.2,735.3 1374.4,734.4C1373.6,733.5 1373.9,729.7 1373.8,728.8C1372.6,727.7 1368.3,724.8 1366.9,722.5C1365.5,720.2 1365.7,717 1365.6,715C1365.5,713 1365.1,712 1366.2,710.6C1367.4,709.2 1370.4,707.5 1372.5,706.9C1374.6,706.3 1376.7,706.6 1378.8,706.9C1380.8,707.2 1382.6,707.8 1385,708.8C1387.4,709.7 1391.8,711.9 1393.1,712.5Z" fill="#fff" stroke="#000" stroke-width="3.50" stroke-linejoin="round"/>
<path d="M1369,713 L1377,724" fill="none" stroke="#000" stroke-width="3.12" stroke-linejoin="round" stroke-linecap="round"/>
<path d="M1374,709C1375.7,709.8 1381,711.8 1384,714C1387,716.2 1389.3,720.3 1392,722C1394.7,723.7 1398.7,723.7 1400,724" fill="none" stroke="#000" stroke-width="3.12" stroke-linejoin="round" stroke-linecap="round"/>
<path d="M1373,729C1374.7,728.2 1379.7,724 1383,724C1386.3,724 1390,728.5 1393,729C1396,729.5 1399.7,727.3 1401,727" fill="none" stroke="#000" stroke-width="2.75" stroke-linejoin="round" stroke-linecap="round"/>
</g>
<!-- watermark -->
<g id="wm" fill="url(#dots)">
<path d="M512,413H584V427H578V447H617V427H603V413H670V427H655V485H670V500H603V485H617V467H578V485H584V500H512V485H532V427H512Z"/>
<path fill-rule="evenodd" d="M742,408C793.1,408 813,421.2 813,455C813,488.8 793.1,502 742,502C690.9,502 671,488.8 671,455C671,421.2 690.9,408 742,408Z M744,426C760.7,426 771,437.4 771,456C771,474.6 760.7,486 744,486C727.3,486 717,474.6 717,456C717,437.4 727.3,426 744,426Z"/>
<path d="M817,413H880L933,468V427H913V413H993V427H953V500H913L853,438V485H860V500H817V485H837V427H817Z"/>
<path fill-rule="evenodd" d="M980,413H1085C1105,413 1119,432 1119,455C1119,480 1102,500 1080,500H978V485H993V427H980Z M1030,428H1066C1074,428 1078,440 1078,456C1078,472 1072,485 1064,485H1030Z"/>
<path fill-rule="evenodd" d="M1142,413H1214V427L1250,478V485H1274V500H1202V485H1209L1205,473H1165L1160,485H1163V500H1112V485H1137L1165,428V427H1142Z M1170,457H1198L1184,435Z"/>
</g>
<g id="labels" font-size="34" fill="#000">
<text transform="translate(821.3,150) scale(0.92,1)" stroke="#000" stroke-width="0.35">2</text>
<text transform="translate(937.3,231) scale(0.92,1)" stroke="#000" stroke-width="0.35">2</text>
<text transform="translate(541.3,335) scale(0.92,1)" stroke="#000" stroke-width="0.35">0</text>
<text transform="translate(653,416) scale(0.92,1)" stroke="#000" stroke-width="0.35">0</text>
<text transform="translate(988.3,386) scale(0.92,1)" stroke="#000" stroke-width="0.35">6</text>
<text transform="translate(415.3,431) scale(0.92,1)" stroke="#000" stroke-width="0.35">5</text>
<text transform="translate(294.3,452) scale(0.92,1)" stroke="#000" stroke-width="0.35">3</text>
<text transform="translate(994.8,558) scale(0.92,1)" stroke="#000" stroke-width="0.35">4</text>
<text transform="translate(1285.3,468) scale(0.92,1)" stroke="#000" stroke-width="0.35">2</text>
<text transform="translate(1538.3,550) scale(0.92,1)" stroke="#000" stroke-width="0.35">8</text>
<text transform="translate(1448.3,583) scale(0.92,1)" stroke="#000" stroke-width="0.35">7</text>
<text transform="translate(1462.3,763) scale(0.92,1)" stroke="#000" stroke-width="0.35">7</text>
<text transform="translate(1385.3,785) scale(0.92,1)" stroke="#000" stroke-width="0.35">9</text>
<path d="M809,131H811L814,127H817.5V150H814V134H809Z"/>
<path d="M925,212H927L930,208H933.5V231H930V215H925Z"/>
<path d="M528,316H530L533,312H536.5V335H533V319H528Z"/>
<path d="M640,397H642L645,393H648.5V416H645V400H640Z"/>
<path d="M1085,528H1087L1090,524H1093.5V547H1090V531H1085Z"/>
<path d="M1102,528H1104L1107,524H1110.5V547H1107V531H1102Z"/>
<path d="M926,628H928L931,624H934.5V647H931V631H926Z"/>
<path d="M943,628H945L948,624H951.5V647H948V631H943Z"/>
<path d="M1455,645H1457L1460,641H1463.5V664H1460V648H1455Z"/>
</g>
<g id="leaders" stroke="#000" stroke-width="2" fill="none">
<path d="M823,158V188M938.5,239V268M1003,498V525M1098,492V514M938,590V613M1294,477V504M1547,558V582M1471,711V729M1393,735V754M1457,591V604"/>
<path d="M564,322H596M677,404.5H702M962,375H982M439,419H540M1433,651.5H1448"/>
<path stroke-width="2.6" d="M317,440.5H344M408,419.5H344V462H466"/>
</g>
<g id="fr">
<polygon fill="#000" points="1827.2,862.2 1864.2,881.5 1868.9,874.2 1876.7,903.4 1847,912.3 1850.7,905 1814.7,883.1"/>
<text transform="translate(1764.5,852.5) rotate(30)" font-size="33" letter-spacing="1" font-weight="bold" fill="#000" stroke="#000" stroke-width="1.6" stroke-linejoin="miter">FR.</text>
</g>
<text x="1488" y="911" font-size="23" fill="#000" stroke="#000" stroke-width="0.9" textLength="128" lengthAdjust="spacingAndGlyphs">Z114F2800A</text>
</svg>
</body></html>
